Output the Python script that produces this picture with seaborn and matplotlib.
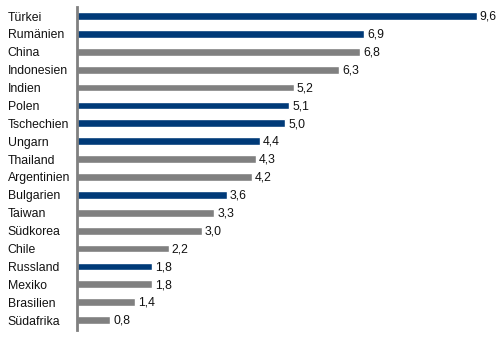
import matplotlib
matplotlib.use("Agg")
import matplotlib.pyplot as plt
import seaborn as sns
import pandas as pd

countries = ["Türkei", "Rumänien", "China", "Indonesien", "Indien", "Polen",
             "Tschechien", "Ungarn", "Thailand", "Argentinien", "Bulgarien",
             "Taiwan", "Südkorea", "Chile", "Russland", "Mexiko", "Brasilien",
             "Südafrika"]
values = [9.6, 6.9, 6.8, 6.3, 5.2, 5.1, 5.0, 4.4, 4.3, 4.2, 3.6, 3.3, 3.0,
          2.2, 1.8, 1.8, 1.4, 0.8]
groups = ["A", "A", "B", "B", "B", "A", "A", "A", "B", "B", "A", "B", "B",
          "B", "A", "B", "B", "B"]

sns.set_style("white")
plt.rcParams["font.family"] = ["Liberation Sans", "DejaVu Sans"]

df = pd.DataFrame({"Land": countries, "Wert": values, "Gruppe": groups})
palette = {"A": "#003A78", "B": "#808080"}

fig = plt.figure(figsize=(5.0, 3.37), dpi=100)
ax = fig.add_axes([0.154, 0.021, 0.833, 0.958])
sns.barplot(data=df, x="Wert", y="Land", hue="Gruppe", palette=palette,
            dodge=False, width=0.43, legend=False, ax=ax, orient="h",
            saturation=1)

ax.set_xlim(0, 10)
ax.set_ylim(17.55, -0.5)
ax.set_xlabel("")
ax.set_ylabel("")
ax.set_xticks([])
for s in ["top", "right", "bottom"]:
    ax.spines[s].set_visible(False)
ax.spines["left"].set_color("#808080")
ax.spines["left"].set_linewidth(2)

ax.tick_params(axis="y", length=0, pad=50)
for lbl in ax.get_yticklabels():
    lbl.set_horizontalalignment("left")
    lbl.set_fontsize(8.8)
    lbl.set_color("#111111")

for i, v in enumerate(values):
    ax.annotate(f"{v:.1f}".replace(".", ","), xy=(v, i), xytext=(2.0, -0.5),
                textcoords="offset points", va="center", ha="left",
                fontsize=8.8, color="#111111")

fig.savefig("out.png", dpi=100)
